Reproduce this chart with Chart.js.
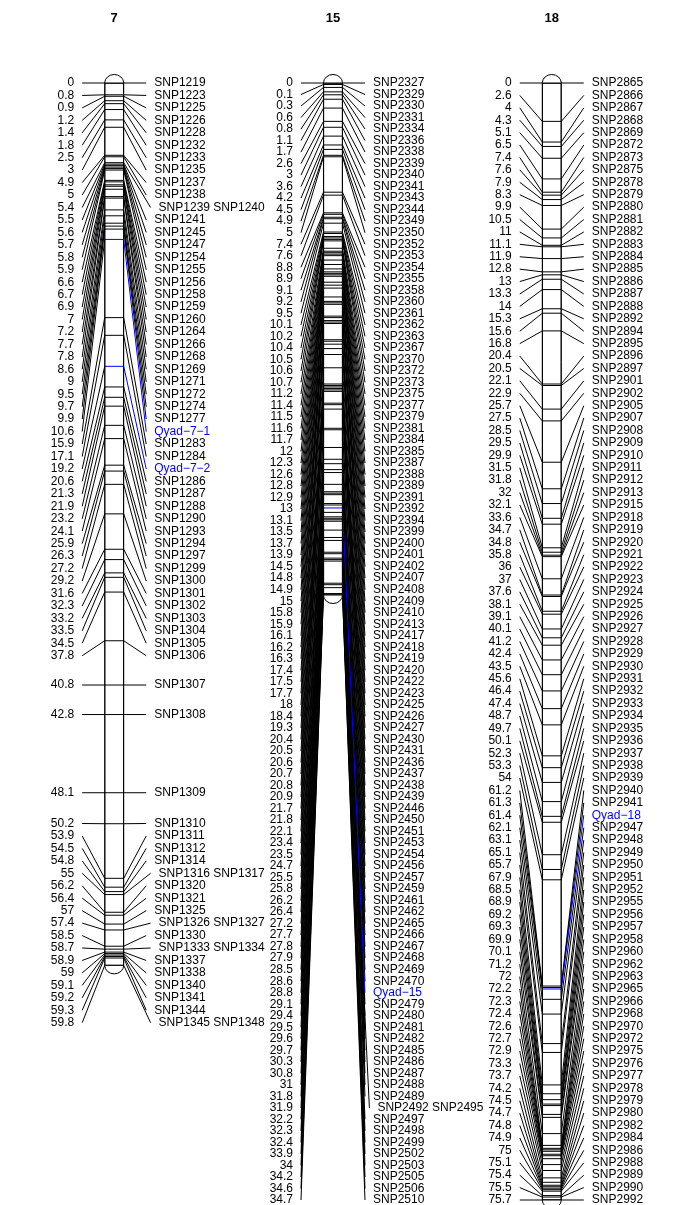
<!DOCTYPE html>
<html lang="en">
<head>
  <meta charset="UTF-8">
  <title>Linkage map - chromosomes 7, 15, 18</title>
  <style>
    body {
      margin: 0;
      background-color: #fff;
    }
    .container {
      width: 680px;
      height: 1205px;
      position: relative;
    }
  </style>
</head>
<body>

  <div class="container">
    <canvas id="mapChart"></canvas>
  </div>

  <script src="https://cdn.jsdelivr.net/npm/chart.js"></script>
  <script>
    // chromosome names (column titles)
    const chromosomes = ['7', '15', '18'];

    // marker positions (cM) and names, one row per label
    const chr7Pos = [0, 0.8, 0.9, 1.2, 1.4, 1.8, 2.5, 3, 4.9, 5, 5.4, 5.5, 5.6, 5.7, 5.8, 5.9, 6.6, 6.7, 6.9, 7,
      7.2, 7.7, 7.8, 8.6, 9, 9.5, 9.7, 9.9, 10.6, 15.9, 17.1, 19.2, 20.6, 21.3, 21.9, 23.2, 24.1, 25.9, 26.3, 27.2,
      29.2, 31.6, 32.3, 33.2, 33.5, 34.5, 37.8, 40.8, 42.8, 48.1, 50.2, 53.9, 54.5, 54.8, 55, 56.2, 56.4, 57, 57.4,
      58.5, 58.7, 58.9, 59, 59.1, 59.2, 59.3, 59.8];
    const chr7Names = ['SNP1219', 'SNP1223', 'SNP1225', 'SNP1226', 'SNP1228', 'SNP1232', 'SNP1233', 'SNP1235',
      'SNP1237', 'SNP1238', 'SNP1239 SNP1240', 'SNP1241', 'SNP1245', 'SNP1247', 'SNP1254', 'SNP1255', 'SNP1256',
      'SNP1258', 'SNP1259', 'SNP1260', 'SNP1264', 'SNP1266', 'SNP1268', 'SNP1269', 'SNP1271', 'SNP1272', 'SNP1274',
      'SNP1277', 'Qyad−7−1', 'SNP1283', 'SNP1284', 'Qyad−7−2', 'SNP1286', 'SNP1287', 'SNP1288', 'SNP1290',
      'SNP1293', 'SNP1294', 'SNP1297', 'SNP1299', 'SNP1300', 'SNP1301', 'SNP1302', 'SNP1303', 'SNP1304', 'SNP1305',
      'SNP1306', 'SNP1307', 'SNP1308', 'SNP1309', 'SNP1310', 'SNP1311', 'SNP1312', 'SNP1314', 'SNP1316 SNP1317',
      'SNP1320', 'SNP1321', 'SNP1325', 'SNP1326 SNP1327', 'SNP1330', 'SNP1333 SNP1334', 'SNP1337', 'SNP1338',
      'SNP1340', 'SNP1341', 'SNP1344', 'SNP1345 SNP1348'];

    const chr15Pos = [0, 0.1, 0.3, 0.6, 0.8, 1.1, 1.7, 2.6, 3, 3.6, 4.2, 4.5, 4.9, 5, 7.4, 7.6, 8.8, 8.9, 9.1, 9.2,
      9.5, 10.1, 10.2, 10.4, 10.5, 10.6, 10.7, 11.2, 11.4, 11.5, 11.6, 11.7, 12, 12.3, 12.6, 12.8, 12.9, 13, 13.1,
      13.5, 13.7, 13.9, 14.5, 14.8, 14.9, 15, 15.8, 15.9, 16.1, 16.2, 16.3, 17.4, 17.5, 17.7, 18, 18.4, 19.3, 20.4,
      20.5, 20.6, 20.7, 20.8, 20.9, 21.7, 21.8, 22.1, 23.4, 23.5, 24.7, 25.5, 25.8, 26.2, 26.4, 27.2, 27.7, 27.8,
      27.9, 28.5, 28.6, 28.8, 29.1, 29.4, 29.5, 29.6, 29.7, 30.3, 30.8, 31, 31.8, 31.9, 32.2, 32.3, 32.4, 33.9, 34,
      34.2, 34.6, 34.7];
    const chr15Names = ['SNP2327', 'SNP2329', 'SNP2330', 'SNP2331', 'SNP2334', 'SNP2336', 'SNP2338', 'SNP2339',
      'SNP2340', 'SNP2341', 'SNP2343', 'SNP2344', 'SNP2349', 'SNP2350', 'SNP2352', 'SNP2353', 'SNP2354', 'SNP2355',
      'SNP2358', 'SNP2360', 'SNP2361', 'SNP2362', 'SNP2363', 'SNP2367', 'SNP2370', 'SNP2372', 'SNP2373', 'SNP2375',
      'SNP2377', 'SNP2379', 'SNP2381', 'SNP2384', 'SNP2385', 'SNP2387', 'SNP2388', 'SNP2389', 'SNP2391', 'SNP2392',
      'SNP2394', 'SNP2399', 'SNP2400', 'SNP2401', 'SNP2402', 'SNP2407', 'SNP2408', 'SNP2409', 'SNP2410', 'SNP2413',
      'SNP2417', 'SNP2418', 'SNP2419', 'SNP2420', 'SNP2422', 'SNP2423', 'SNP2425', 'SNP2426', 'SNP2427', 'SNP2430',
      'SNP2431', 'SNP2436', 'SNP2437', 'SNP2438', 'SNP2439', 'SNP2446', 'SNP2450', 'SNP2451', 'SNP2453', 'SNP2454',
      'SNP2456', 'SNP2457', 'SNP2459', 'SNP2461', 'SNP2462', 'SNP2465', 'SNP2466', 'SNP2467', 'SNP2468', 'SNP2469',
      'SNP2470', 'Qyad−15', 'SNP2479', 'SNP2480', 'SNP2481', 'SNP2482', 'SNP2485', 'SNP2486', 'SNP2487', 'SNP2488',
      'SNP2489', 'SNP2492 SNP2495', 'SNP2497', 'SNP2498', 'SNP2499', 'SNP2502', 'SNP2503', 'SNP2505', 'SNP2506',
      'SNP2510'];

    const chr18Pos = [0, 2.6, 4, 4.3, 5.1, 6.5, 7.4, 7.6, 7.9, 8.3, 9.9, 10.5, 11, 11.1, 11.9, 12.8, 13, 13.3, 14,
      15.3, 15.6, 16.8, 20.4, 20.5, 22.1, 22.9, 25.7, 27.5, 28.5, 29.5, 29.9, 31.5, 31.8, 32, 32.1, 33.6, 34.7, 34.8,
      35.8, 36, 37, 37.6, 38.1, 39.1, 40.1, 41.2, 42.4, 43.5, 45.6, 46.4, 47.4, 48.7, 49.7, 50.1, 52.3, 53.3, 54,
      61.2, 61.3, 61.4, 62.1, 63.1, 65.1, 65.7, 67.9, 68.5, 68.9, 69.2, 69.3, 69.9, 70.1, 71.2, 72, 72.2, 72.3,
      72.4, 72.6, 72.7, 72.9, 73.3, 73.7, 74.2, 74.5, 74.7, 74.8, 74.9, 75, 75.1, 75.4, 75.5, 75.7];
    const chr18Names = ['SNP2865', 'SNP2866', 'SNP2867', 'SNP2868', 'SNP2869', 'SNP2872', 'SNP2873', 'SNP2875',
      'SNP2878', 'SNP2879', 'SNP2880', 'SNP2881', 'SNP2882', 'SNP2883', 'SNP2884', 'SNP2885', 'SNP2886', 'SNP2887',
      'SNP2888', 'SNP2892', 'SNP2894', 'SNP2895', 'SNP2896', 'SNP2897', 'SNP2901', 'SNP2902', 'SNP2905', 'SNP2907',
      'SNP2908', 'SNP2909', 'SNP2910', 'SNP2911', 'SNP2912', 'SNP2913', 'SNP2915', 'SNP2918', 'SNP2919', 'SNP2920',
      'SNP2921', 'SNP2922', 'SNP2923', 'SNP2924', 'SNP2925', 'SNP2926', 'SNP2927', 'SNP2928', 'SNP2929', 'SNP2930',
      'SNP2931', 'SNP2932', 'SNP2933', 'SNP2934', 'SNP2935', 'SNP2936', 'SNP2937', 'SNP2938', 'SNP2939', 'SNP2940',
      'SNP2941', 'Qyad−18', 'SNP2947', 'SNP2948', 'SNP2949', 'SNP2950', 'SNP2951', 'SNP2952', 'SNP2955', 'SNP2956',
      'SNP2957', 'SNP2958', 'SNP2960', 'SNP2962', 'SNP2963', 'SNP2965', 'SNP2966', 'SNP2968', 'SNP2970', 'SNP2972',
      'SNP2975', 'SNP2976', 'SNP2977', 'SNP2978', 'SNP2979', 'SNP2980', 'SNP2982', 'SNP2984', 'SNP2986', 'SNP2988',
      'SNP2989', 'SNP2990', 'SNP2992'];

    // QTL labels drawn in blue
    const qtlNames = ['Qyad−7−1', 'Qyad−7−2', 'Qyad−15', 'Qyad−18'];

    const chrData = [
      { pos: chr7Pos, names: chr7Names },
      { pos: chr15Pos, names: chr15Names },
      { pos: chr18Pos, names: chr18Names }
    ];
    const lengths = chrData.map(c => Math.max(...c.pos));
    const maxLen = Math.max(...lengths);

    // drawing style
    const BAR_W = 19;
    const CAP_H = 8.5;
    const LABEL_GAP = 12.45;   // px between label rows
    const CONN_IN = 9.5;       // bar edge
    const CONN_OUT = 32;       // outer end of connector
    const TEXT_OFF = 40;
    const MULTI_SHIFT = 4.4;
    const QTL_COLOR = '#0000ff';
    const FONT = '12px "Liberation Sans", Arial, sans-serif';

    // spread label rows so they don't overlap (cluster & center, clamp to range)
    function spreadLabels(pos, gap, lo, hi) {
      const n = pos.length;
      if ((n - 1) * gap > hi - lo) gap = (hi - lo) / (n - 1);
      const groups = pos.map((p, i) => ({ start: i, end: i, sum: p, top: p }));
      const place = g => {
        const cnt = g.end - g.start + 1;
        let top = g.sum / cnt - (cnt - 1) * gap / 2;
        top = Math.min(top, hi - (cnt - 1) * gap);
        top = Math.max(top, lo);
        g.top = top;
      };
      groups.forEach(place);
      let merged = true;
      while (merged) {
        merged = false;
        for (let i = 0; i < groups.length - 1; i++) {
          const a = groups[i], b = groups[i + 1];
          const aBottom = a.top + (a.end - a.start) * gap;
          if (b.top - aBottom < gap - 1e-9) {
            a.end = b.end;
            a.sum += b.sum;
            place(a);
            groups.splice(i + 1, 1);
            merged = true;
            break;
          }
        }
      }
      const out = new Array(n);
      groups.forEach(g => {
        for (let j = g.start; j <= g.end; j++) out[j] = g.top + (j - g.start) * gap;
      });
      return out;
    }

    function line(ctx, x1, y1, x2, y2) {
      ctx.beginPath();
      ctx.moveTo(x1, y1);
      ctx.lineTo(x2, y2);
      ctx.stroke();
    }

    const linkagePlugin = {
      id: 'linkage',
      afterDatasetsDraw(chart) {
        const ctx = chart.ctx;
        const xs = chart.scales.x, ys = chart.scales.y;
        const pxPerCM = ys.getPixelForValue(1) - ys.getPixelForValue(0);
        ctx.save();
        ctx.lineWidth = 1;
        chrData.forEach((chr, ci) => {
          const cx = xs.getPixelForValue(ci);
          const half = BAR_W / 2;
          const labelPos = spreadLabels(chr.pos, LABEL_GAP / pxPerCM, 0, maxLen);
          const y0 = ys.getPixelForValue(0);
          const yEnd = ys.getPixelForValue(lengths[ci]);

          // rounded caps
          ctx.strokeStyle = '#000';
          ctx.fillStyle = '#fff';
          ctx.beginPath();
          ctx.ellipse(cx, y0, half, CAP_H, 0, Math.PI, 2 * Math.PI);
          ctx.fill();
          ctx.stroke();
          ctx.beginPath();
          ctx.ellipse(cx, yEnd, half, CAP_H, 0, 0, Math.PI);
          ctx.fill();
          ctx.stroke();

          // title
          ctx.fillStyle = '#000';
          ctx.font = 'bold 13px "Liberation Sans", Arial, sans-serif';
          ctx.textAlign = 'center';
          ctx.textBaseline = 'middle';
          ctx.fillText(chromosomes[ci], cx, 18);

          ctx.font = FONT;
          // two passes: black markers then QTLs on top
          [false, true].forEach(qPass => {
            chr.pos.forEach((p, i) => {
              const name = chr.names[i];
              const isQtl = qtlNames.includes(name);
              if (isQtl !== qPass) return;
              const py = ys.getPixelForValue(p);
              const ly = ys.getPixelForValue(labelPos[i]);
              const shift = name.includes(' ') ? MULTI_SHIFT : 0;
              const col = isQtl ? QTL_COLOR : '#000';

              ctx.strokeStyle = '#000';
              line(ctx, cx - CONN_OUT, ly, cx - CONN_IN, py);
              ctx.strokeStyle = col;
              line(ctx, cx - CONN_IN, py, cx + CONN_IN, py);
              line(ctx, cx + CONN_IN, py, cx + CONN_OUT + shift, ly);

              ctx.fillStyle = '#000';
              ctx.textAlign = 'right';
              ctx.textBaseline = 'middle';
              ctx.fillText(String(p), cx - TEXT_OFF, ly);
              ctx.fillStyle = col;
              ctx.textAlign = 'left';
              ctx.fillText(name, cx + TEXT_OFF + shift, ly);
            });
          });

          // bar side outline on top of marker lines
          ctx.strokeStyle = '#000';
          line(ctx, cx - half, y0, cx - half, yEnd);
          line(ctx, cx + half, y0, cx + half, yEnd);
        });
        ctx.restore();
      }
    };

    const ctx = document.getElementById('mapChart').getContext('2d');
    const mapChart = new Chart(ctx, {
      type: 'bar',
      data: {
        datasets: [{
          data: chromosomes.map((c, i) => ({ x: i, y: [0, lengths[i]] })),
          backgroundColor: '#fff',
          borderColor: '#000',
          borderWidth: 1,
          borderSkipped: false,
          barThickness: BAR_W
        }]
      },
      options: {
        responsive: true,
        maintainAspectRatio: false,
        animation: false,
        layout: { padding: { top: 83, bottom: 5, left: 0, right: 0 } },
        plugins: { legend: { display: false }, tooltip: { enabled: false } },
        scales: {
          x: { type: 'linear', min: -0.3, max: 2.364, display: false },
          y: { type: 'linear', reverse: true, min: 0, max: maxLen, display: false }
        }
      },
      plugins: [linkagePlugin]
    });
  </script>

</body>
</html>
